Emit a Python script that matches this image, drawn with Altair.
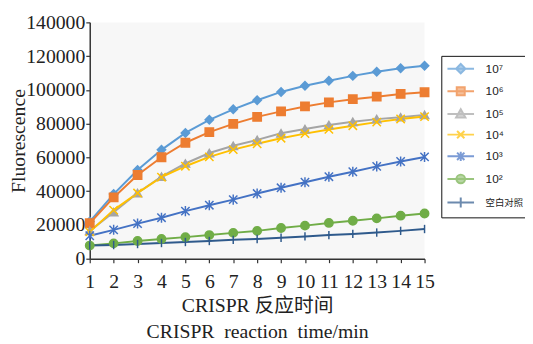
import altair as alt
import pandas as pd

times = list(range(1, 16))
series_names = ["10⁷", "10⁶", "10⁵", "10⁴", "10³", "10²", "空白对照"]

s_1e7 = [22000, 38300, 52500, 64500, 74500, 82300, 88500, 93900, 98800, 102500, 105400, 108300, 110700, 112800, 114300]
s_1e6 = [21000, 36300, 49600, 60100, 68700, 75000, 79900, 84000, 87300, 90200, 92600, 94500, 96000, 97600, 98600]
s_1e5 = [16500, 27600, 38900, 48600, 56400, 62600, 66900, 70400, 74300, 76800, 79200, 81100, 82700, 83800, 85200]
s_1e4 = [15900, 28800, 38900, 48300, 54800, 60300, 64600, 68100, 71400, 74100, 76600, 78800, 80900, 82800, 84200]
s_1e3 = [13600, 17100, 20800, 24300, 28200, 31700, 35000, 38600, 42000, 45300, 48600, 51500, 54700, 57600, 60300]
s_1e2 = [7800, 9100, 10500, 11700, 12800, 14000, 15300, 16500, 18200, 19600, 21200, 22500, 23900, 25500, 26800]
s_blank = [7800, 8100, 8700, 9300, 9900, 10500, 11200, 11700, 12400, 13200, 14000, 14700, 15500, 16500, 17600]

all_series = [s_1e7, s_1e6, s_1e5, s_1e4, s_1e3, s_1e2, s_blank]
y_ticks = [0, 20000, 40000, 60000, 80000, 100000, 120000, 140000]

colors = ["#5B9BD5", "#ED7D31", "#A5A5A5", "#FFC000", "#4472C4", "#70AD47", "#2F5A8C"]

shapes_main = [
    "diamond", "square", "triangle-up",
    "M-1,-1L1,1M-1,1L1,-1",
    "M-1,-1L1,1M-1,1L1,-1M0,-1.2L0,1.2",
    "circle",
    "M0,-1L0,1",
]
shapes_legend = [
    "M-1,0L3,0M1,-0.7L1.7,0L1,0.7L0.3,0Z",
    "M-1,0L3,0M0.4,-0.6L1.6,-0.6L1.6,0.6L0.4,0.6Z",
    "M-1,0L3,0M1,-0.7L1.7,0.55L0.3,0.55Z",
    "M-1,0L3,0M0.45,-0.55L1.55,0.55M0.45,0.55L1.55,-0.55",
    "M-1,0L3,0M0.45,-0.55L1.55,0.55M0.45,0.55L1.55,-0.55M1,-0.7L1,0.7",
    "M-1,0L3,0M1.65,0A0.65,0.65 0 1,1 0.35,0A0.65,0.65 0 1,1 1.65,0Z",
    "M-1,0L3,0M1,-0.75L1,0.75",
]

rows = []
for i, (name, vals) in enumerate(zip(series_names, all_series)):
    for t, v in zip(times, vals):
        rows.append({"time": t, "value": v, "series": name, "order": i})
df = pd.DataFrame(rows)

SERIF = "Liberation Serif, Noto Sans CJK SC"

x_axis = alt.Axis(values=times,
                  title=["CRISPR 反应时间", "CRISPR\u00a0 reaction\u00a0 time/min"],
                  format="d", labelFlush=False, labelOverlap=False,
                  labelFont="Liberation Serif", titleFont=SERIF)
y_axis = alt.Axis(values=y_ticks, title="Fluorescence", format="d",
                  labelOverlap=False, labelFlush=False,
                  labelFont="Liberation Serif", titleFont=SERIF)
x_enc = alt.X("time:Q", scale=alt.Scale(domain=[1, 15], nice=False, zero=False), axis=x_axis)
y_enc = alt.Y("value:Q", scale=alt.Scale(domain=[0, 140000], nice=False), axis=y_axis)

color_scale = alt.Scale(domain=series_names, range=colors)

base = alt.Chart(df)

lines = base.mark_line(strokeWidth=2).encode(
    x=x_enc, y=y_enc,
    color=alt.Color("series:N", scale=color_scale, legend=None),
    detail="series:N",
    order="order:Q",
)

points = base.mark_point(filled=True, strokeWidth=1.5, size=72, opacity=1).encode(
    x=x_enc, y=y_enc,
    fill=alt.Fill("series:N", scale=color_scale, legend=None),
    stroke=alt.Stroke("series:N", scale=color_scale, legend=None),
    shape=alt.Shape("series:N", scale=alt.Scale(domain=series_names, range=shapes_main), legend=None),
    order="order:Q",
)

legend_def = alt.Legend(
    title=None, orient="none", legendX=357, legendY=34,
    symbolSize=182, symbolStrokeWidth=2,
    labelFont="Liberation Sans, Noto Sans CJK SC",
    labelFontSize=alt.ExprRef("datum.value == '空白对照' ? 9.5 : 12"),
    labelColor="#222", labelOffset=24, rowPadding=5,
    padding=5, strokeColor="#111", fillColor="white",
)

legend_layer = base.transform_filter("datum.order < 0").mark_point(filled=True, strokeWidth=2).encode(
    x=x_enc, y=y_enc,
    fill=alt.Fill("series:N", scale=color_scale, legend=legend_def),
    stroke=alt.Stroke("series:N", scale=color_scale, legend=legend_def),
    shape=alt.Shape("series:N", scale=alt.Scale(domain=series_names, range=shapes_legend), legend=legend_def),
)

chart = alt.layer(lines, points, legend_layer).resolve_scale(
    color="independent", fill="independent", stroke="independent", shape="independent"
).properties(
    width=340, height=240,
    autosize=alt.AutoSizeParams(type="none"),
    padding={"left": 83, "top": 12, "right": 102, "bottom": 84},
    title=alt.TitleParams(text="荧光", orient="left", anchor="middle", font=SERIF,
                          fontSize=20, fontWeight="normal", color="#222", dx=42, offset=5),
).configure_view(
    fill="#f7f7f7", strokeWidth=0
).configure_axis(
    grid=False, domainColor="#333", domainWidth=1.5, tickColor="#333", tickWidth=1.2,
    labelFont="Liberation Serif", labelOverlap=False, labelFlush=False,
    labelFontSize=20, labelColor="#222",
    titleFont=SERIF, titleFontSize=20, titleFontWeight="normal", titleColor="#222",
).configure_axisX(
    tickSize=4, labelPadding=9, titlePadding=5, titleLineHeight=26,
).configure_axisY(
    tickSize=4, labelPadding=1, titlePadding=-3,
)

chart.save("out.html", embed_options={"renderer": "svg", "actions": False})
